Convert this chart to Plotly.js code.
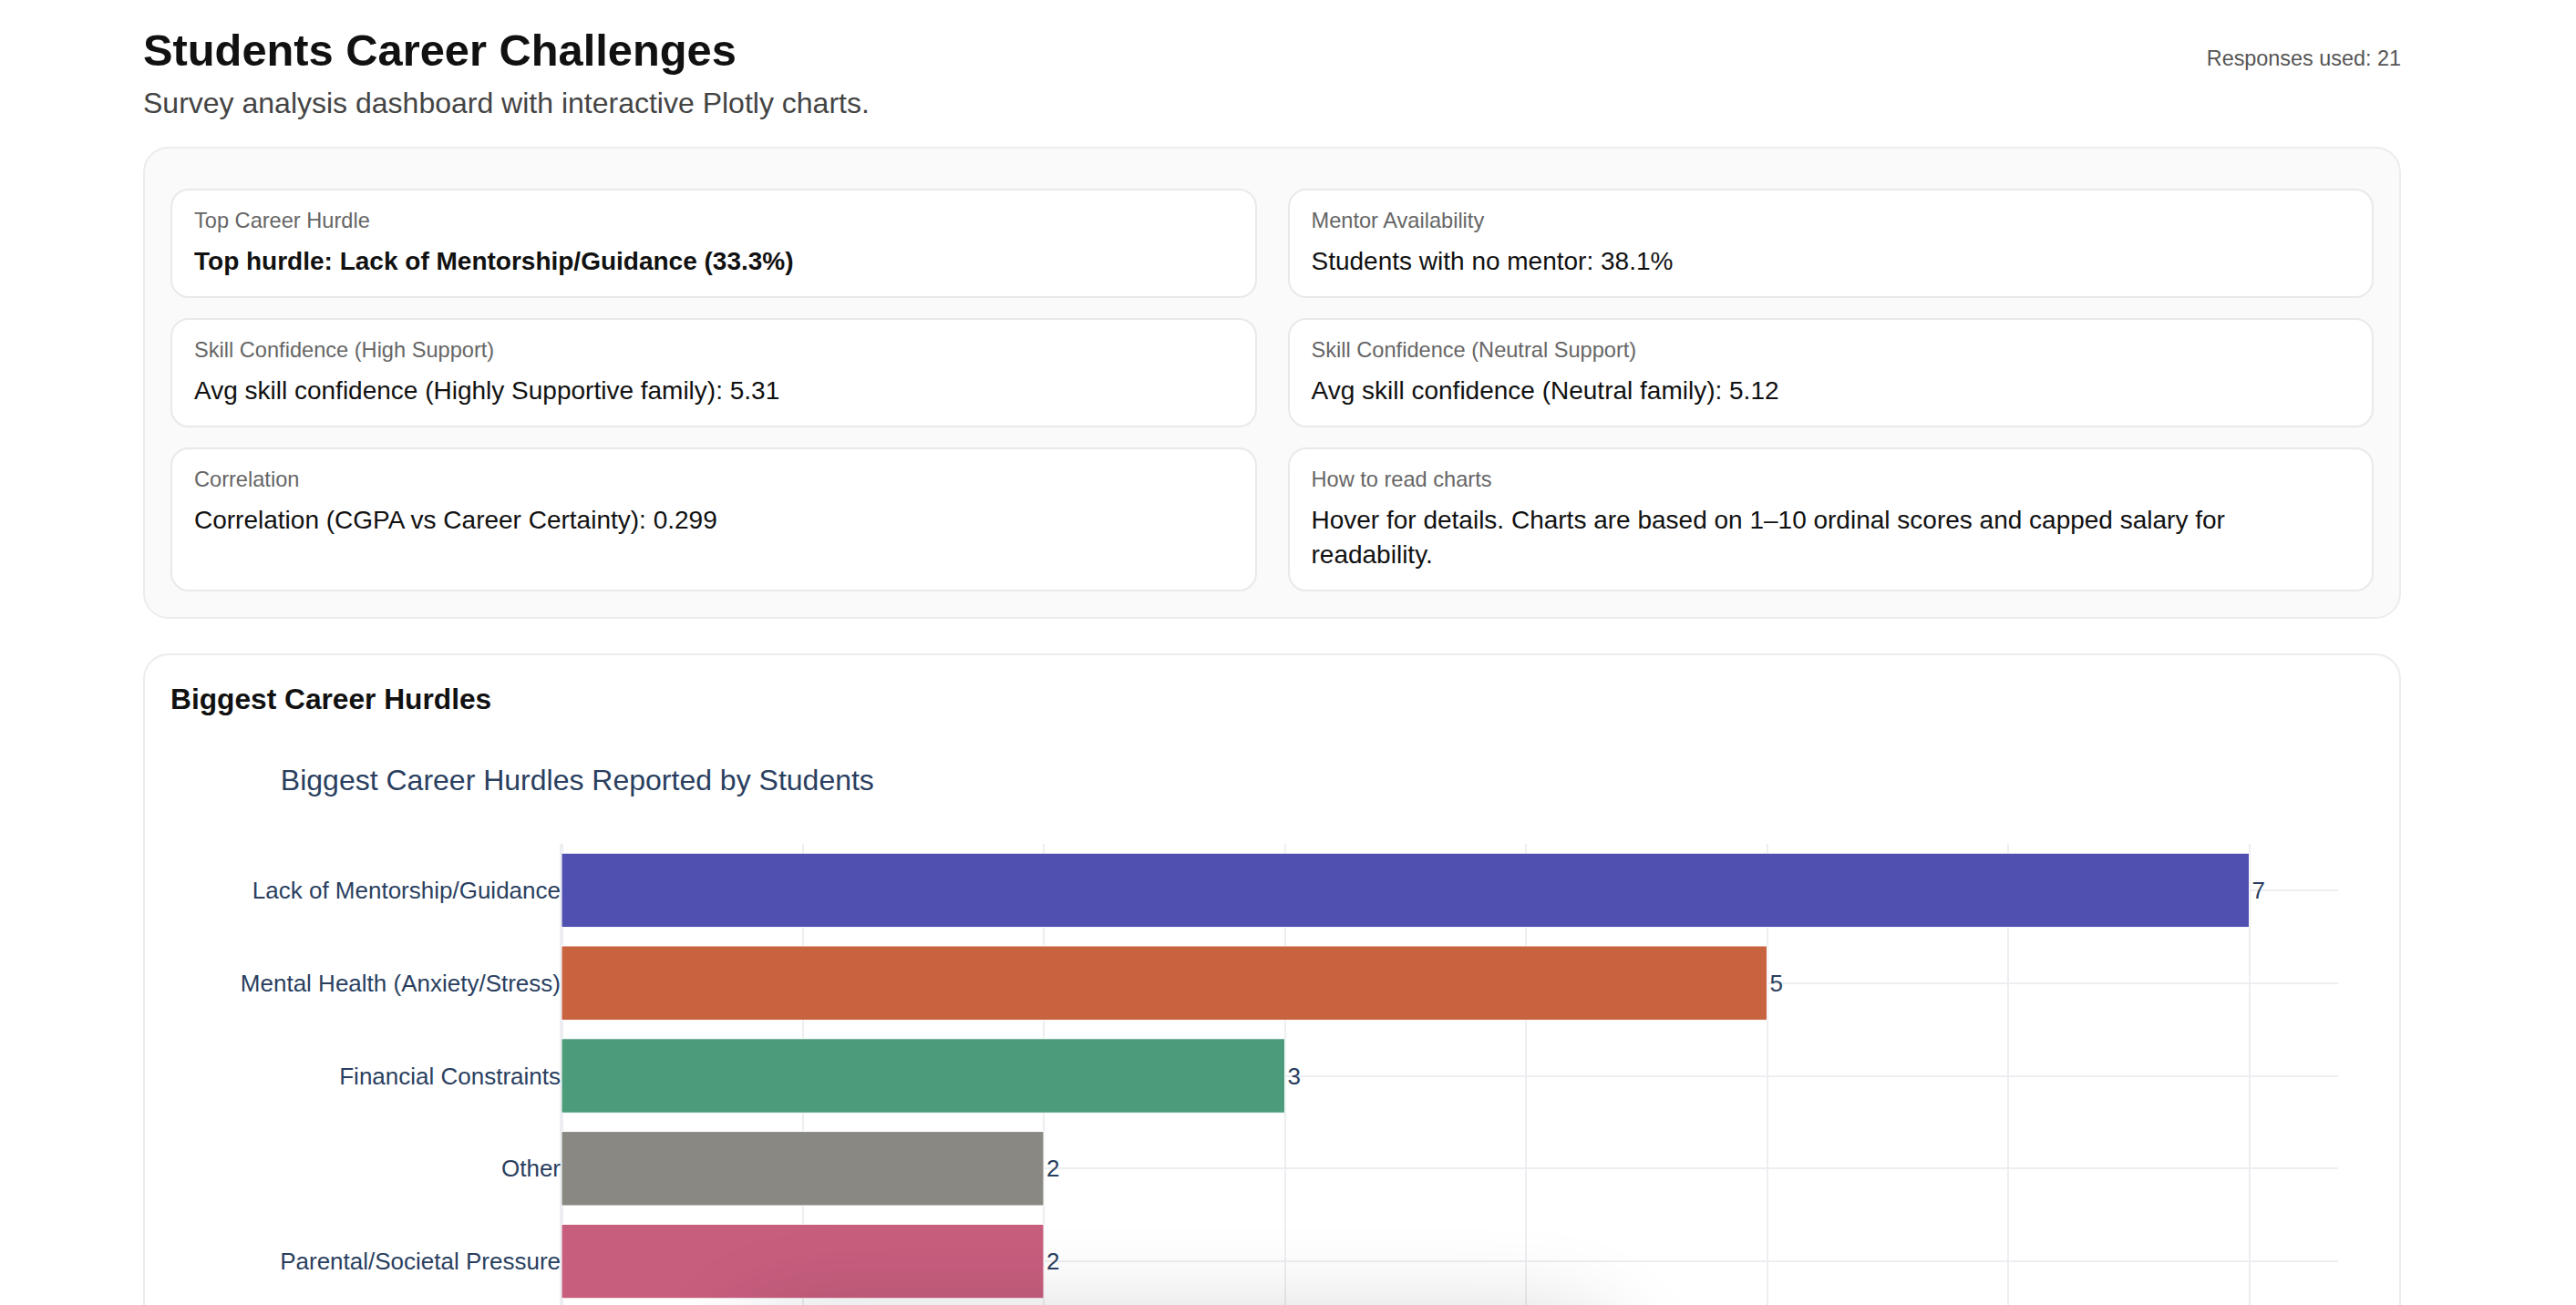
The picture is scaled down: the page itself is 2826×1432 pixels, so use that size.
<!DOCTYPE html>
<html>
<head>
<meta charset="utf-8">
<script src="https://cdn.plot.ly/plotly-3.0.1.min.js"></script>
<style>
  html, body { margin: 0; padding: 0; background: #ffffff; }
  body { width: 2826px; height: 1432px; overflow: hidden; position: relative;
         font-family: "Liberation Sans", Arial, Helvetica, sans-serif; color: #111; }
  .h1 { position: absolute; left: 157px; top: 25px; margin: 0; font-size: 48.8px; line-height: 60px;
        font-weight: 700; color: #111; white-space: nowrap; }
  .sub { position: absolute; left: 157px; top: 94px; margin: 0; font-size: 32px; line-height: 38px;
         color: #444; white-space: nowrap; }
  .resp { position: absolute; right: 192px; top: 50px; font-size: 23.4px; line-height: 28px; color: #555;
          white-space: nowrap; }
  .panel { position: absolute; left: 157px; top: 161px; width: 2477px; box-sizing: border-box;
           background: #fafafa; border: 2px solid #ececec; border-radius: 28px;
           padding: 44px 28px 28px 28px; display: grid; grid-template-columns: 1fr 1fr;
           column-gap: 34px; row-gap: 22px; }
  .card { background: #ffffff; border: 2px solid #e9e9e9; border-radius: 20px;
          padding: 19px 24px 19px 24px; }
  .lbl { font-size: 23.6px; line-height: 28px; color: #666; white-space: nowrap; }
  .val { font-size: 28px; line-height: 38px; color: #111; margin-top: 12px; }
  .val.b { font-weight: 700; }
  .panel2 { position: absolute; left: 157px; top: 717px; width: 2477px; height: 1000px; box-sizing: border-box;
            background: #ffffff; border: 2px solid #ececec; border-radius: 28px;
            padding: 29px 28px 28px 28px; }
  .h2 { margin: 0; font-size: 31.7px; line-height: 38px; font-weight: 700; color: #111; }
  #chart { margin-top: 14px; width: 2417px; height: 705px; }
  .floater { position: fixed; left: 840px; top: 1485px; width: 900px; height: 220px;
             border-radius: 30px; background: #fff; box-shadow: 0 0 110px 30px rgba(0,0,0,0.2); }
</style>
</head>
<body>
  <div class="h1">Students Career Challenges</div>
  <div class="sub">Survey analysis dashboard with interactive Plotly charts.</div>
  <div class="resp">Responses used: 21</div>

  <div class="panel">
    <div class="card"><div class="lbl">Top Career Hurdle</div><div class="val b">Top hurdle: Lack of Mentorship/Guidance (33.3%)</div></div>
    <div class="card"><div class="lbl">Mentor Availability</div><div class="val">Students with no mentor: 38.1%</div></div>
    <div class="card"><div class="lbl">Skill Confidence (High Support)</div><div class="val">Avg skill confidence (Highly Supportive family): 5.31</div></div>
    <div class="card"><div class="lbl">Skill Confidence (Neutral Support)</div><div class="val">Avg skill confidence (Neutral family): 5.12</div></div>
    <div class="card"><div class="lbl">Correlation</div><div class="val">Correlation (CGPA vs Career Certainty): 0.299</div></div>
    <div class="card"><div class="lbl">How to read charts</div><div class="val">Hover for details. Charts are based on 1–10 ordinal scores and capped salary for<br>readability.</div></div>
  </div>

  <div class="panel2">
    <div class="h2">Biggest Career Hurdles</div>
    <div id="chart"></div>
  </div>

  <div class="floater"></div>

<script>
const hurdleCategories = [
  "Lack of Mentorship/Guidance",
  "Mental Health (Anxiety/Stress)",
  "Financial Constraints",
  "Other",
  "Parental/Societal Pressure"
];
const hurdleCounts = [7, 5, 3, 2, 2];
const hurdleColors = ["#5050B0", "#C9623F", "#4C9B7A", "#898882", "#C75E7E"];
const chartTitle = "Biggest Career Hurdles Reported by Students";

const FONT = "Liberation Sans, Arial, Helvetica, sans-serif";
const H = 705;

const trace = {
  type: "bar",
  orientation: "h",
  y: hurdleCategories,
  x: hurdleCounts,
  text: hurdleCounts.map(String),
  textposition: "outside",
  cliponaxis: false,
  textfont: { family: FONT, size: 26, color: "#2a3f5f" },
  marker: { color: hurdleColors, line: { color: "#ffffff", width: 1 } },
  hoverinfo: "x+y"
};

const layout = {
  width: 2417,
  height: H,
  paper_bgcolor: "#ffffff",
  plot_bgcolor: "#ffffff",
  font: { family: FONT, size: 26, color: "#2a3f5f" },
  title: { text: chartTitle, font: { family: FONT, size: 32, color: "#2a3f5f" },
           x: 0.05, xanchor: "left", xref: "container",
           y: 1 - 56 / H, yanchor: "middle", yref: "container" },
  margin: { l: 429, r: 39, t: 126, b: 70, pad: 0 },
  showlegend: false,
  bargap: 0.2,
  xaxis: { showgrid: true, gridcolor: "#EDEEF2", gridwidth: 2, zeroline: true, zerolinecolor: "#EDEEF2",
           zerolinewidth: 4, ticks: "", showline: false, automargin: false, showticklabels: false },
  yaxis: { autorange: "reversed", showgrid: true, gridcolor: "#EDEEF2", gridwidth: 2, ticks: "",
           showline: false, automargin: false, tickfont: { family: FONT, size: 26, color: "#2a3f5f" } }
};

Plotly.newPlot("chart", [trace], layout, { displayModeBar: false, responsive: false });
</script>
</body>
</html>
